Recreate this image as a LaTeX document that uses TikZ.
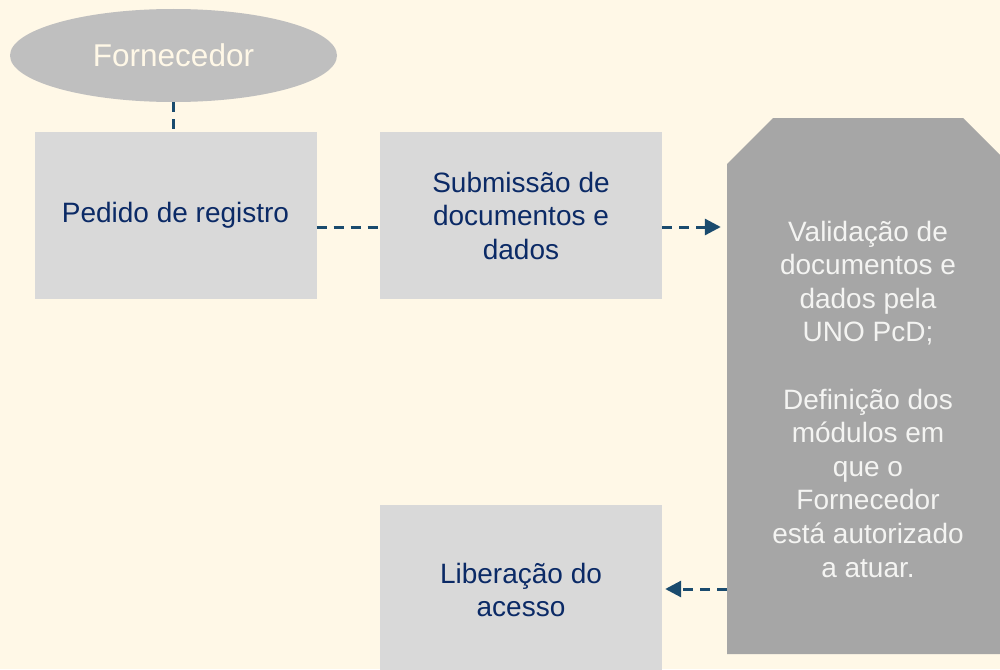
\documentclass[tikz,border=0pt]{standalone}
\usepackage{fontspec}
\setmainfont{Liberation Sans}
\usetikzlibrary{arrows.meta,shapes.geometric}
\definecolor{bgc}{HTML}{FFF8E7}
\definecolor{ellc}{HTML}{BFBFBF}
\definecolor{boxc}{HTML}{D9D9D9}
\definecolor{darkc}{HTML}{A6A6A6}
\definecolor{navy}{HTML}{0B2A66}
\definecolor{linec}{HTML}{1A4B6E}
\definecolor{lighttxt}{HTML}{F4F4F2}
\tikzset{
  lightbox/.style={fill=boxc, draw=none, minimum width=282pt, inner sep=0pt, text=navy, align=center, font=\fontsize{28}{33.5}\selectfont},
  conn/.style={draw=linec, line width=3pt, dash pattern=on 10pt off 7pt},
  arr/.style={conn, -{Triangle[length=16pt,width=16pt]}}
}
\begin{document}
\begin{tikzpicture}[x=1pt,y=-1pt]
\fill[bgc] (0,0) rectangle (1000,669);
\useasboundingbox (0,0) rectangle (1000,669);
% ellipse
\node[ellipse, fill=ellc, minimum width=327pt, minimum height=93pt, inner sep=0pt, text=bgc, font=\fontsize{31.5}{36}\selectfont] (f) at (173.5,55.5) {Fornecedor};
% boxes
\node[lightbox, minimum height=167pt] (p) at (175.5,215.5) {Pedido de registro};
\node[lightbox, minimum height=167pt] (s) at (521,215.5) {Submissão de\\documentos e\\dados};
\node[lightbox, minimum height=170pt] (l) at (521,590) {Liberação do\\acesso};
% chamfered shape
\fill[darkc] (773,118) -- (963,118) -- (1010,165) -- (1010,654) -- (727,654) -- (727,164) -- cycle;
\node[minimum width=283pt, minimum height=536pt, inner sep=0pt] (v) at (868.5,386) {};
\node[text=lighttxt, align=center, font=\fontsize{28}{33.6}\selectfont] (vt) at (868,399) {Validação de\\documentos e\\dados pela\\UNO PcD;\\[33.6pt]Definição dos\\módulos em\\que o\\Fornecedor\\está autorizado\\a atuar.};
% connectors
\draw[conn] (f.south) -- (f.south |- p.north);
\draw[conn] (p.east |- 0,227) -- (s.west |- 0,227);
\draw[arr] (s.east |- 0,227) -- ([xshift=-6pt]v.west |- 0,227);
\draw[arr] (v.west |- 0,589) -- ([xshift=3pt]l.east |- 0,589);
\end{tikzpicture}
\end{document}
